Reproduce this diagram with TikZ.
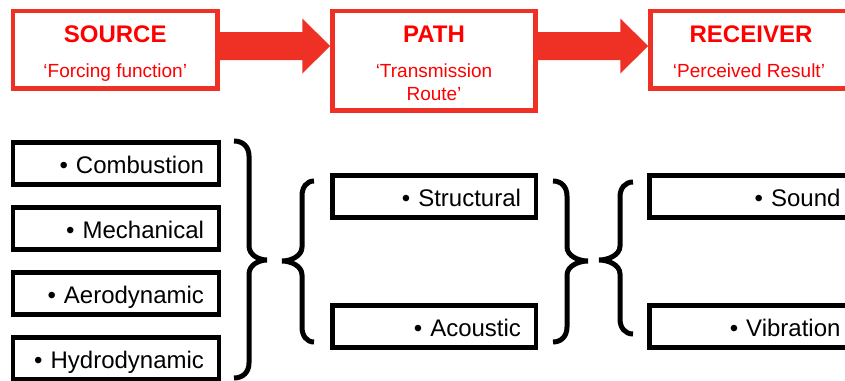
\documentclass[tikz,border=0pt]{standalone}
\usepackage{fontspec}
\setmainfont{Liberation Sans}
\usetikzlibrary{calc}
\definecolor{flowred}{RGB}{238,49,36}
\definecolor{labelred}{RGB}{255,0,0}

% curly brace: end x, stem x, tip x, top y, tip y, bottom y
\newcommand\curlypath[6]{%
  (#1,#4) .. controls ({#1+0.6*(#2-#1)},#4) and (#2,{#4+6}) .. (#2,{#4+15})
  -- (#2,{#5-14}) .. controls (#2,{#5-5}) and ({#3+0.45*(#2-#3)},#5) .. (#3,#5)
  .. controls ({#3+0.45*(#2-#3)},#5) and (#2,{#5+5}) .. (#2,{#5+14})
  -- (#2,{#6-15}) .. controls (#2,{#6-6}) and ({#1+0.6*(#2-#1)},#6) .. (#1,#6)}

\begin{document}
\begin{tikzpicture}[x=1bp,y=-1bp,
  stage/.style={draw=flowred, line width=4.5bp, minimum width=204.5bp,
    minimum height=77.5bp, inner sep=0pt},
  stagetitle/.style={text=labelred, anchor=base,
    font=\fontsize{24bp}{28bp}\selectfont\bfseries},
  stagesub/.style={text=labelred, anchor=base, align=center,
    font=\fontsize{19bp}{23bp}\selectfont},
  itembox/.style={draw=black, line width=4.5bp, text width=#1, align=right,
    font=\fontsize{24bp}{28bp}\selectfont, text height=19.8bp, text depth=0.2bp,
    inner xsep=15bp, inner ysep=11bp},
  flow/.style={fill=flowred},
  curly/.style={draw=black, line width=5bp}
]
\useasboundingbox (0,0) rectangle (845,380);
\clip (0,0) rectangle (845,380);

% the three stages
\node[stage] (src) at (115.25,49.75) {};
\node[stage, minimum height=99.5bp, minimum width=203bp] (route) at (434,60.75) {};
\node[stage] (rcv) at (752.75,49.75) {};

\node[stagetitle] (srcT) at (115.25,42.7) {SOURCE};
\node[stagesub] (srcS) at (115.25,77.3) {‘Forcing function’};
\node[stagetitle] (routeT) at (434,42.7) {PATH};
\node[stagesub] (routeS) at (434,100) {‘Transmission\\Route’};
\node[stagetitle] (rcvT) at (751,42.7) {RECEIVER};
\node[stagesub] (rcvS) at (749,77.3) {‘Perceived Result’};

% block arrows between the stages
\coordinate (arow) at (0,46);
\fill[flow] ($(src.east |- arow)+(0,-14)$) -| ($(route.west |- arow)+(-28,-27.5)$)
  -- (route.west |- arow) -- ($(route.west |- arow)+(-28,27.5)$)
  |- ($(src.east |- arow)+(0,14)$) -- cycle;
\fill[flow] ($(route.east |- arow)+(0,-14)$) -| ($(rcv.west |- arow)+(-28,-27.5)$)
  -- (rcv.west |- arow) -- ($(rcv.west |- arow)+(-28,27.5)$)
  |- ($(route.east |- arow)+(0,14)$) -- cycle;

% sources
\node[itembox=176bp] (comb) at (116,163.5) {• Combustion};
\node[itembox=176bp] (mech) at (116,228.5) {• Mechanical};
\node[itembox=176bp] (aero) at (116,293.5) {• Aerodynamic};
\node[itembox=176bp] (hydro) at (116,358.5) {• Hydrodynamic};

% paths
\node[itembox=173.5bp] (struct) at (434.25,196.5) {• Structural};
\node[itembox=173.5bp] (acou) at (434.25,326.5) {• Acoustic};

% receivers
\node[itembox=176bp] (sound) at (752.5,196.5) {• Sound};
\node[itembox=176bp] (vib) at (752.5,326.5) {• Vibration};

% grouping braces
\draw[curly] \curlypath{234}{249}{267}{141}{260}{378};
\draw[curly] \curlypath{314}{302}{282}{181}{261}{342};
\draw[curly] \curlypath{553}{567}{588}{181}{261}{342};
\draw[curly] \curlypath{633}{620}{599}{182}{260}{334};
\end{tikzpicture}
\end{document}
